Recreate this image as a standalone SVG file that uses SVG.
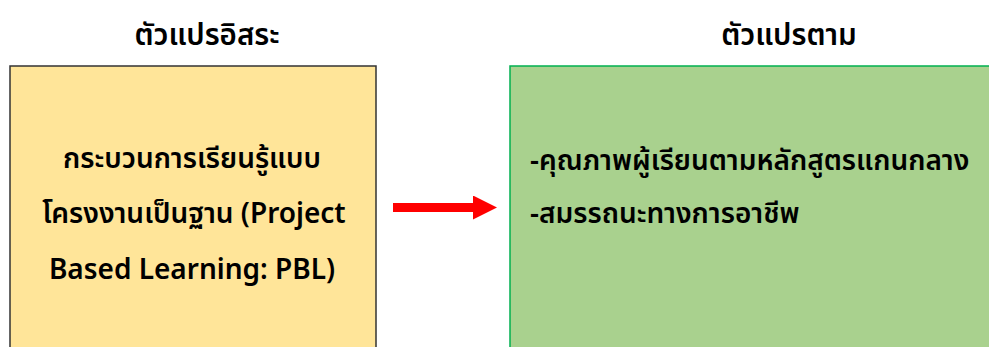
<svg xmlns="http://www.w3.org/2000/svg" width="989" height="347" viewBox="0 0 989 347">
  <style>
    text { font-family: "Noto Sans", "Noto Sans Thai", "DejaVu Sans", sans-serif; font-size: 28px; font-weight: 600; fill: #000; }
    .c { text-anchor: middle; }
    .t { font-size: 29.5px; }
  </style>
  <defs>
    <marker id="ah" markerWidth="24" markerHeight="24" refX="0" refY="12" markerUnits="userSpaceOnUse" orient="auto">
      <polygon points="0,0 24,12 0,24" fill="#FF0000"/>
    </marker>
  </defs>
  <rect width="989" height="347" fill="#FFFFFF"/>
  <g id="title-independent">
    <text class="c t" x="207" y="45">ตัวแปรอิสระ</text>
  </g>
  <g id="title-dependent">
    <text class="c t" x="789" y="45">ตัวแปรตาม</text>
  </g>
  <g id="node-independent">
    <rect x="10" y="66" width="366" height="300" fill="#FFE599" stroke="#333333" stroke-width="1.5"/>
    <text class="c" x="192" y="168">กระบวนการเรียนรู้แบบ</text>
    <text class="c" x="194" y="223">โครงงานเป็นฐาน (Project</text>
    <text class="c" x="192" y="279">Based Learning: PBL)</text>
  </g>
  <g id="node-dependent">
    <rect x="510" y="66" width="500" height="300" fill="#A9D18E" stroke="#00B050" stroke-width="1.5"/>
    <text x="530" y="170">-คุณภาพผู้เรียนตามหลักสูตรแกนกลาง</text>
    <text x="530" y="223">-สมรรถนะทางการอาชีพ</text>
  </g>
  <g id="connectors">
    <line x1="393" y1="207.5" x2="473" y2="207.5" stroke="#FF0000" stroke-width="9" marker-end="url(#ah)"/>
  </g>
</svg>
